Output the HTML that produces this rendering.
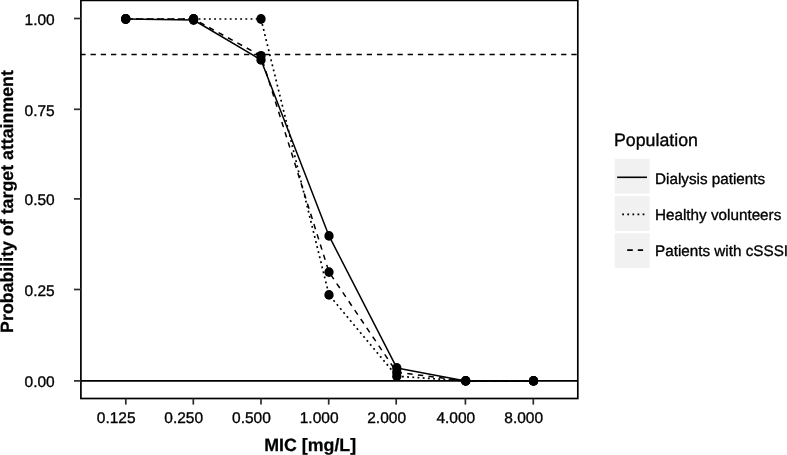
<!DOCTYPE html>
<html lang="en">
<head>
<meta charset="utf-8">
<title>Probability of target attainment</title>
<style>
html,body{margin:0;padding:0;background:#fff;}
body{width:787px;height:455px;overflow:hidden;}
svg{display:block;will-change:transform;}
text{font-family:"Liberation Sans",Arial,Helvetica,sans-serif;fill:#000;stroke:#000;stroke-width:0.35px;stroke-linejoin:round;text-rendering:geometricPrecision;}
.tk{font-size:15.5px;}
.lb{font-size:15.25px;}
.ttl{font-size:17.8px;font-weight:bold;stroke-width:0.25px;}
.lt{font-size:17.75px;}
</style>
</head>
<body>
<svg width="787" height="455" viewBox="0 0 787 455">
<rect x="0" y="0" width="787" height="455" fill="#ffffff"/>
<g fill="none" stroke="#000" stroke-width="1.5" stroke-linejoin="round">
<polyline points="125.75,19.00 193.60,20.00 261.00,59.90 329.00,235.90 396.80,367.90 465.70,380.90 533.50,380.90"/>
<polyline points="125.75,19.00 193.60,19.00 261.00,19.00 329.00,294.90 396.80,376.20 465.70,380.90 533.50,380.90" stroke-width="1.7" stroke-dasharray="1.9 3.3"/>
<polyline points="125.75,19.00 193.60,19.00 261.00,55.80 329.00,272.10 396.80,372.30 465.70,380.90 533.50,380.90" stroke-dasharray="5.4 5.3"/>
</g>
<line x1="80.3" x2="577.8" y1="54.5" y2="54.5" stroke="#000" stroke-width="1.7" stroke-dasharray="5.3 4.93"/>
<line x1="80.9" x2="577.8" y1="380.9" y2="380.9" stroke="#000" stroke-width="1.65"/>
<g fill="#000">
<ellipse cx="125.75" cy="19.00" rx="4.65" ry="4.9"/>
<ellipse cx="193.60" cy="20.00" rx="4.65" ry="4.9"/>
<ellipse cx="261.00" cy="59.90" rx="4.65" ry="4.9"/>
<ellipse cx="329.00" cy="235.90" rx="4.65" ry="4.9"/>
<ellipse cx="396.80" cy="367.90" rx="4.65" ry="4.9"/>
<ellipse cx="465.70" cy="380.90" rx="4.65" ry="4.9"/>
<ellipse cx="533.50" cy="380.90" rx="4.65" ry="4.9"/>
<ellipse cx="125.75" cy="19.00" rx="4.65" ry="4.9"/>
<ellipse cx="193.60" cy="19.00" rx="4.65" ry="4.9"/>
<ellipse cx="261.00" cy="19.00" rx="4.65" ry="4.9"/>
<ellipse cx="329.00" cy="294.90" rx="4.65" ry="4.9"/>
<ellipse cx="396.80" cy="376.20" rx="4.65" ry="4.9"/>
<ellipse cx="465.70" cy="380.90" rx="4.65" ry="4.9"/>
<ellipse cx="533.50" cy="380.90" rx="4.65" ry="4.9"/>
<ellipse cx="125.75" cy="19.00" rx="4.65" ry="4.9"/>
<ellipse cx="193.60" cy="19.00" rx="4.65" ry="4.9"/>
<ellipse cx="261.00" cy="55.80" rx="4.65" ry="4.9"/>
<ellipse cx="329.00" cy="272.10" rx="4.65" ry="4.9"/>
<ellipse cx="396.80" cy="372.30" rx="4.65" ry="4.9"/>
<ellipse cx="465.70" cy="380.90" rx="4.65" ry="4.9"/>
<ellipse cx="533.50" cy="380.90" rx="4.65" ry="4.9"/>
</g>
<rect x="80.9" y="0.4" width="496.90" height="398.10" fill="none" stroke="#000" stroke-width="1.7"/>
<g stroke="#2b2b2b" stroke-width="1.7">
<line x1="74.0" x2="80.9" y1="18.50" y2="18.50"/>
<line x1="74.0" x2="80.9" y1="109.30" y2="109.30"/>
<line x1="74.0" x2="80.9" y1="198.90" y2="198.90"/>
<line x1="74.0" x2="80.9" y1="289.50" y2="289.50"/>
<line x1="74.0" x2="80.9" y1="380.90" y2="380.90"/>
<line x1="125.8" x2="125.8" y1="398.5" y2="404.6"/>
<line x1="193.3" x2="193.3" y1="398.5" y2="404.6"/>
<line x1="261.0" x2="261.0" y1="398.5" y2="404.6"/>
<line x1="328.7" x2="328.7" y1="398.5" y2="404.6"/>
<line x1="396.2" x2="396.2" y1="398.5" y2="404.6"/>
<line x1="465.4" x2="465.4" y1="398.5" y2="404.6"/>
<line x1="533.3" x2="533.3" y1="398.5" y2="404.6"/>
</g>
<text class="tk" transform="translate(54.70 25.00)" text-anchor="end">1.00</text>
<text class="tk" transform="translate(54.70 115.80)" text-anchor="end">0.75</text>
<text class="tk" transform="translate(54.70 205.40)" text-anchor="end">0.50</text>
<text class="tk" transform="translate(54.70 296.00)" text-anchor="end">0.25</text>
<text class="tk" transform="translate(54.70 387.40)" text-anchor="end">0.00</text>
<text class="tk" transform="translate(116.20 423.10)" text-anchor="middle">0.125</text>
<text class="tk" transform="translate(183.70 423.10)" text-anchor="middle">0.250</text>
<text class="tk" transform="translate(251.40 423.10)" text-anchor="middle">0.500</text>
<text class="tk" transform="translate(319.10 423.10)" text-anchor="middle">1.000</text>
<text class="tk" transform="translate(386.60 423.10)" text-anchor="middle">2.000</text>
<text class="tk" transform="translate(455.80 423.10)" text-anchor="middle">4.000</text>
<text class="tk" transform="translate(523.70 423.10)" text-anchor="middle">8.000</text>
<text class="ttl" transform="translate(310.20 450.80)" text-anchor="middle">MIC [mg/L]</text>
<text class="ttl" transform="translate(13.40 201.50) rotate(-90)" text-anchor="middle">Probability of target attainment</text>
<text class="lt" transform="translate(614.00 146.20)" text-anchor="start">Population</text>
<rect x="614.8" y="158.7" width="34.8" height="34.95" fill="#f1f1f1"/>
<line x1="617.1" x2="647.0" y1="177.3" y2="177.3" stroke="#000" stroke-width="1.6"/>
<text class="lb" transform="translate(655.00 183.50)" text-anchor="start">Dialysis patients</text>
<rect x="614.8" y="196.1" width="34.8" height="35.0" fill="#f1f1f1"/>
<line x1="622.2" x2="644.5" y1="214.3" y2="214.3" stroke="#000" stroke-width="1.7" stroke-dasharray="1.8 3.3"/>
<text class="lb" transform="translate(655.00 220.20)" text-anchor="start">Healthy volunteers</text>
<rect x="614.8" y="233.3" width="34.8" height="34.5" fill="#f1f1f1"/>
<line x1="627.2" x2="643.1" y1="250.15" y2="250.15" stroke="#000" stroke-width="1.6" stroke-dasharray="5.6 5.0"/>
<text class="lb" transform="translate(655.00 256.30)" text-anchor="start">Patients with cSSSI</text>
</svg>
</body>
</html>
